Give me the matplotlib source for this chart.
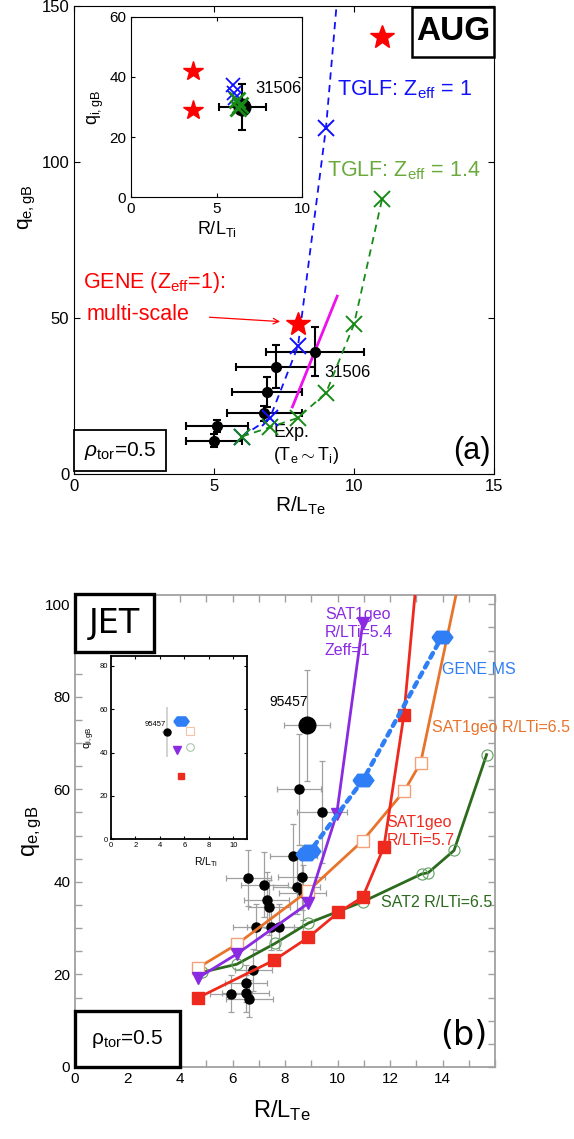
import matplotlib
matplotlib.use("Agg")
import matplotlib.pyplot as plt
from matplotlib.patches import Rectangle
from matplotlib.ticker import MultipleLocator

plt.rcParams["font.family"] = ["Liberation Sans", "DejaVu Sans"]
plt.rcParams["mathtext.fontset"] = "custom"
plt.rcParams["mathtext.rm"] = "Liberation Sans"
plt.rcParams["mathtext.it"] = "Liberation Sans:italic"
plt.rcParams["mathtext.bf"] = "Liberation Sans:bold"

# =============================================================================
# DATA: panel (a) AUG
# =============================================================================
exp_a_x = [5.0, 5.1, 6.8, 6.9, 7.2, 8.6]
exp_a_y = [10.7, 15.4, 19.4, 26.4, 34.4, 39.2]
exp_a_xerr = [1.0, 1.1, 1.35, 1.25, 1.4, 1.75]
exp_a_yerr = [2.0, 2.0, 2.5, 4.8, 6.8, 7.8]

tglf1_x = [6, 7, 8, 9, 10]
tglf1_y = [12, 18, 41, 111, 215]
tglf14_x = [6, 7, 8, 9, 10, 11]
tglf14_y = [12, 15, 18, 26, 48, 88]
gene_a_x = [8, 11]
gene_a_y = [48, 140]
stiff_x = [7.8, 9.4]
stiff_y = [21.5, 57]

# inset (a): ion heat flux vs R/LTi
ins_a_gene_x = [3.6, 3.6]
ins_a_gene_y = [42, 29]
ins_a_tglf1_x = [5.95, 6.0, 6.05]
ins_a_tglf1_y = [37.3, 34.8, 33.0]
ins_a_tglf14_x = [6.17, 6.36, 6.24]
ins_a_tglf14_y = [32.3, 30.6, 29.6]
ins_a_exp_x = [6.5]
ins_a_exp_y = [30.0]
ins_a_exp_xerr = [1.37]
ins_a_exp_yerr = [7.5]

# =============================================================================
# DATA: panel (b) JET
# =============================================================================
exp_b_x = [8.53, 9.40, 8.32, 6.60, 7.21, 8.64, 8.44, 8.67, 7.30, 7.40,
           6.90, 7.45, 7.77, 6.79, 6.50, 5.93, 6.50, 6.64]
exp_b_y = [60.0, 55.1, 45.6, 40.8, 39.4, 41.0, 39.0, 37.7, 36.1, 34.5,
           30.2, 30.2, 30.2, 21.0, 18.1, 15.8, 15.9, 14.7]
exp_b_xerr = [0.85, 0.95, 0.9, 0.85, 0.9, 0.9, 0.9, 0.9, 0.85, 0.8,
              0.9, 0.9, 0.9, 0.7, 0.8, 0.8, 0.9, 0.9]
exp_b_yerr = [12, 11, 7, 6, 7, 7, 6, 6, 6, 6, 5, 5, 5, 4.5, 4, 4, 4, 4]
shot_b_x = [8.83]
shot_b_y = [73.8]
shot_b_xerr = [0.87]
shot_b_yerr = [12.0]

sat1_54_x = [4.67, 6.16, 8.89, 9.97, 10.96]
sat1_54_y = [19.2, 24.4, 35.4, 54.7, 95.9]
sat1_57_x = [4.70, 7.59, 8.89, 10.03, 10.96, 11.77, 12.53, 13.0]
sat1_57_y = [15.0, 23.1, 28.0, 33.4, 36.7, 47.6, 76.1, 105]
sat1_65_x = [4.70, 6.16, 8.89, 10.96, 12.55, 13.17, 14.7]
sat1_65_y = [21.5, 26.5, 38.1, 48.9, 59.7, 65.8, 107]
sat2_x = [4.85, 6.16, 7.62, 8.89, 10.96, 13.2, 13.46, 14.44, 15.68]
sat2_y = [20.5, 22.2, 26.7, 31.1, 35.7, 41.7, 42.0, 46.8, 67.5]
gene_b_x = [8.8, 8.95, 10.98, 13.97]
gene_b_y = [46.0, 46.6, 62.1, 92.9]

# inset (b): ion heat flux vs R/LTi
ins_b_exp = (4.57, 49.7, 0.4, 11.5)
ins_b_gene = (5.73, 54.8)
ins_b_sat1_65 = (6.47, 49.9)
ins_b_sat2 = (6.47, 42.5)
ins_b_sat1_54 = (5.38, 41.2)
ins_b_sat1_57 = (5.71, 29.4)

# colours
BLUE = "#1010ff"
GREEN = "#178a17"
LGREEN = "#6aaa3c"
RED = "#ff0000"
MAGENTA = "#ee10ee"
B_RED = "#ee2a1e"
B_ORANGE = "#e8742c"
B_PEACH = "#f2a27a"
B_PURPLE = "#8a2be2"
B_DGREEN = "#2c6a1e"
B_LGREEN = "#5f9f5f"
B_BLUE = "#2f7ef5"
GRAY = "#a0a0a0"

HEX = [(-1, 0), (-0.55, 0.6), (0.55, 0.6), (1, 0), (0.55, -0.6), (-0.55, -0.6), (-1, 0)]

W, H = 574, 1139
fig = plt.figure(figsize=(W / 100, H / 100), dpi=100)


def px_axes(left, top, right, bottom):
    return fig.add_axes([left / W, (H - bottom) / H, (right - left) / W, (bottom - top) / H])


def box(ax, x0, y0, x1, y1, lw):
    ax.add_patch(Rectangle((x0, y0), x1 - x0, y1 - y0, transform=ax.transAxes,
                           fill=True, facecolor="white", edgecolor="black",
                           lw=lw, zorder=6, clip_on=False))


# =============================================================================
# PANEL (a)
# =============================================================================
ax = px_axes(74, 6, 494, 474)
ax.set_xlim(0, 15)
ax.set_ylim(0, 150)
ax.set_xticks([0, 5, 10, 15])
ax.set_yticks([0, 50, 100, 150])
ax.tick_params(direction="in", top=True, right=True, length=4, labelsize=12)
for s in ax.spines.values():
    s.set_linewidth(0.8)

ax.errorbar(exp_a_x, exp_a_y, xerr=exp_a_xerr, yerr=exp_a_yerr, fmt="o",
            color="black", ms=7, capsize=3, elinewidth=1.5, capthick=1.5, zorder=3)
ax.plot(stiff_x, stiff_y, color=MAGENTA, lw=2, zorder=3)
ax.plot(tglf1_x, tglf1_y, "x", ls=(0, (4, 3)), color=BLUE, ms=11, mew=1.4, lw=1.3, zorder=4)
ax.plot(tglf14_x, tglf14_y, "x", ls=(0, (4, 3)), color=GREEN, ms=11, mew=1.4, lw=1.3, zorder=4)
ax.plot(gene_a_x, gene_a_y, "*", color=RED, ms=18, zorder=5)

ax.text(9.39, 121.5, r"TGLF: Z$_\mathrm{eff}$ = 1", color=BLUE, fontsize=15.5, va="baseline")
ax.text(9.02, 95.3, r"TGLF: Z$_\mathrm{eff}$ = 1.4", color=LGREEN, fontsize=15.5, va="baseline")
ax.text(0.33, 59.5, r"GENE (Z$_\mathrm{eff}$=1):", color=RED, fontsize=15.5, va="baseline")
ax.text(0.45, 49.4, "multi-scale", color=RED, fontsize=15.5, va="baseline")
ax.annotate("", xy=(7.46, 48.8), xytext=(4.74, 50.3),
            arrowprops=dict(arrowstyle="->", color=RED, lw=0.9))
ax.text(8.94, 31.2, "31506", fontsize=12, va="baseline")
ax.text(7.12, 12.0, "Exp.", fontsize=13, va="baseline")
ax.text(7.12, 4.5, r"(T$_\mathrm{e}\sim$T$_\mathrm{i}$)", fontsize=13, va="baseline")
ax.text(0.902, 0.031, "(a)", transform=ax.transAxes, fontsize=22, va="baseline")

box(ax, 0.804, 0.892, 1.0, 0.9985, 1.8)
ax.text(0.902, 0.945, "AUG", transform=ax.transAxes, fontsize=24, fontweight="bold",
        ha="center", va="center", zorder=7)
box(ax, 0.0, 0.006, 0.219, 0.094, 1.3)
ax.text(0.11, 0.05, r"$\rho_\mathrm{tor}$=0.5", transform=ax.transAxes, fontsize=15,
        ha="center", va="center", zorder=7)

ax.set_xlabel(r"R/L$_\mathrm{Te}$", fontsize=15)
ax.xaxis.set_label_coords(0.54, -0.045)
ax.set_ylabel(r"q$_\mathrm{e,gB}$", fontsize=15)
ax.yaxis.set_label_coords(-0.085, 0.57)

# inset (a)
ia = px_axes(131, 16.7, 302.3, 197.3)
ia.set_xlim(0, 10)
ia.set_ylim(0, 60)
ia.set_xticks([0, 5, 10])
ia.set_yticks([0, 20, 40, 60])
ia.tick_params(direction="in", top=True, right=True, length=3, labelsize=11)
for s in ia.spines.values():
    s.set_linewidth(0.8)
ia.plot(ins_a_gene_x, ins_a_gene_y, "*", color=RED, ms=15, zorder=5)
ia.errorbar(ins_a_exp_x, ins_a_exp_y, xerr=ins_a_exp_xerr, yerr=ins_a_exp_yerr, fmt="o",
            color="black", ms=12, capsize=3, elinewidth=1.5, capthick=1.5, zorder=3)
ia.plot(ins_a_tglf1_x, ins_a_tglf1_y, "x", color=BLUE, ms=10, mew=1.3, ls="none", zorder=4)
ia.plot(ins_a_tglf14_x, ins_a_tglf14_y, "x", color=GREEN, ms=11, mew=2, ls="none", zorder=4)
ia.text(7.24, 34.5, "31506", fontsize=12, va="baseline")
ia.set_xlabel(r"R/L$_\mathrm{Ti}$", fontsize=13, labelpad=2)
ia.set_ylabel(r"q$_\mathrm{i,gB}$", fontsize=13, labelpad=2)

# =============================================================================
# PANEL (b)
# =============================================================================
bx = px_axes(75, 595, 495, 1067)
bx.set_xlim(0, 16)
bx.set_ylim(0, 102)
bx.set_xticks(range(0, 15, 2))
bx.set_yticks(range(0, 101, 20))
bx.xaxis.set_minor_locator(MultipleLocator(1))
bx.yaxis.set_minor_locator(MultipleLocator(5))
bx.tick_params(which="both", direction="in", top=True, right=True, length=5,
               color=GRAY, width=1.0, labelsize=11)
for s in bx.spines.values():
    s.set_linewidth(1.3)
    s.set_color(GRAY)

bx.errorbar(exp_b_x, exp_b_y, xerr=exp_b_xerr, yerr=exp_b_yerr, fmt="o", color="black",
            ecolor=GRAY, ms=6.5, capsize=2.5, elinewidth=0.9, capthick=0.9, zorder=2)
bx.errorbar(shot_b_x, shot_b_y, xerr=shot_b_xerr, yerr=shot_b_yerr, fmt="o", color="black",
            ecolor=GRAY, ms=12, capsize=2.5, elinewidth=0.9, capthick=0.9, zorder=2)

bx.plot(sat2_x, sat2_y, "-o", color=B_DGREEN, lw=2, ms=8, mfc="none", mec=B_LGREEN, mew=0.8, zorder=3)
bx.plot(sat1_65_x, sat1_65_y, "-s", color=B_ORANGE, lw=2, ms=8, mfc="white", mec=B_PEACH, mew=1.0, zorder=3)
bx.plot(sat1_54_x, sat1_54_y, "-v", color=B_PURPLE, lw=2, ms=9, zorder=3)
bx.plot(sat1_57_x, sat1_57_y, "-s", color=B_RED, lw=2, ms=8, zorder=3)
bx.plot(gene_b_x, gene_b_y, marker=HEX, color=B_BLUE, ls=(0, (1.2, 1.3)), lw=3.2,
        dash_capstyle="round", ms=15, zorder=4)

bx.text(9.52, 96.8, "SAT1geo", color=B_PURPLE, fontsize=11.5, va="baseline")
bx.text(9.52, 92.9, "R/LTi=5.4", color=B_PURPLE, fontsize=11.5, va="baseline")
bx.text(9.52, 89.1, "Zeff=1", color=B_PURPLE, fontsize=11.5, va="baseline")
bx.text(14.0, 85.0, "GENE MS", color=B_BLUE, fontsize=11.5, va="baseline")
bx.text(13.59, 72.5, "SAT1geo R/LTi=6.5", color=B_ORANGE, fontsize=11.5, va="baseline")
bx.text(11.87, 51.8, "SAT1geo", color=B_RED, fontsize=11.5, va="baseline")
bx.text(11.87, 48.0, "R/LTi=5.7", color=B_RED, fontsize=11.5, va="baseline")
bx.text(11.64, 34.5, "SAT2 R/LTi=6.5", color=B_DGREEN, fontsize=11.5, va="baseline")
bx.text(7.4, 78.1, "95457", fontsize=10, va="baseline")
bx.text(0.869, 0.047, "(b)", transform=bx.transAxes, fontsize=24, va="baseline",
        family="DejaVu Sans")

box(bx, 0.0, 0.88, 0.189, 1.002, 2.4)
bx.text(0.094, 0.94, "JET", transform=bx.transAxes, fontsize=24, family="DejaVu Sans",
        ha="center", va="center", zorder=7)
box(bx, 0.0, 0.0, 0.25, 0.119, 2.4)
bx.text(0.125, 0.06, "\u03c1$_\\mathrm{tor}$=0.5", transform=bx.transAxes, fontsize=15,
        ha="center", va="center", zorder=7)

bx.set_xlabel(r"R/L$_\mathrm{Te}$", fontsize=17)
bx.xaxis.set_label_coords(0.493, -0.065)
bx.set_ylabel(r"q$_\mathrm{e,gB}$", fontsize=17)
bx.yaxis.set_label_coords(-0.075, 0.5)

# inset (b)
ib = px_axes(111, 656, 246.7, 839.3)
ib.set_xlim(0, 11.1)
ib.set_ylim(0, 84.6)
ib.set_xticks(range(0, 11, 2))
ib.set_yticks(range(0, 81, 20))
ib.tick_params(direction="in", top=True, right=True, length=2.5, labelsize=5.5, pad=2)
for s in ib.spines.values():
    s.set_linewidth(1.3)
ib.errorbar([ins_b_exp[0]], [ins_b_exp[1]], xerr=[ins_b_exp[2]], yerr=[ins_b_exp[3]], fmt="o",
            color="black", ecolor="#cccccc", ms=5, elinewidth=1.2, capsize=0, zorder=3)
ib.plot([ins_b_gene[0]], [ins_b_gene[1]], marker=HEX, color=B_BLUE, ms=11, zorder=4)
ib.plot([ins_b_sat1_65[0]], [ins_b_sat1_65[1]], "s", mfc="white", mec="#f5c3a5", ms=5.5, mew=0.8)
ib.plot([ins_b_sat2[0]], [ins_b_sat2[1]], "o", mfc="white", mec="#a8c8a8", ms=5.5, mew=0.8)
ib.plot([ins_b_sat1_54[0]], [ins_b_sat1_54[1]], "v", color=B_PURPLE, ms=5.5)
ib.plot([ins_b_sat1_57[0]], [ins_b_sat1_57[1]], "s", color=B_RED, ms=5)
ib.text(4.48, 52.3, "95457", fontsize=5.5, ha="right", va="baseline")
ib.set_xlabel(r"R/L$_\mathrm{Ti}$", fontsize=7.5)
ib.xaxis.set_label_coords(0.70, -0.085)
ib.set_ylabel(r"q$_\mathrm{i,gB}$", fontsize=8)
ib.yaxis.set_label_coords(-0.10, 0.553)

fig.savefig("out.png", dpi=100)
